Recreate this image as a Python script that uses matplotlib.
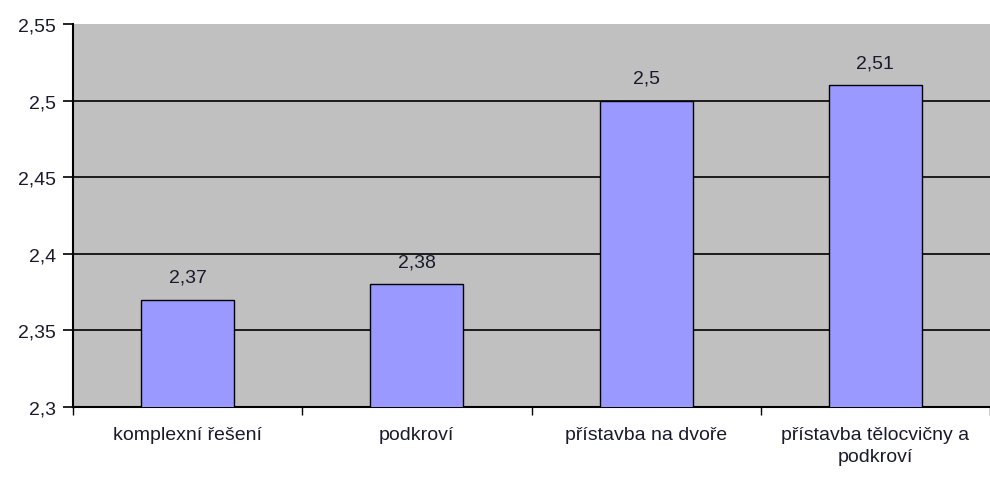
import matplotlib
matplotlib.use("Agg")
import matplotlib.pyplot as plt
import numpy as np

categories = ["komplexní řešení", "podkroví", "přístavba na dvoře", "přístavba tělocvičny a\npodkroví"]
values = [2.37, 2.38, 2.5, 2.51]
yticks = [2.3, 2.35, 2.4, 2.45, 2.5, 2.55]

plt.rcParams['font.family'] = ['Liberation Sans', 'DejaVu Sans']
FS = 14

fig = plt.figure(figsize=(9.9, 4.81), dpi=100)
ax = fig.add_axes([73/990, 73/481, 917/990, 383/481])
ax.set_facecolor('#C0C0C0')

x = np.arange(len(categories))
bars = ax.bar(x, values, width=0.405, color='#9999FF', edgecolor='black', linewidth=1.0, zorder=3)
for xi, v in zip(x, values):
    ax.text(xi, v + 0.009, f"{v:g}".replace('.', ','), ha='center', va='bottom', fontsize=FS, color='#1a1a2e', zorder=4)

ax.set_xlim(-0.5, len(categories) - 0.5)
ax.set_ylim(2.3, 2.55)
ax.set_yticks(yticks)
ax.set_yticklabels([f"{t:g}".replace('.', ',') for t in yticks], fontsize=FS, color='#1a1a2e')
ax.yaxis.grid(True, color='black', linewidth=1.2, zorder=1)
ax.get_ygridlines()[-1].set_visible(False)
ax.set_axisbelow(True)

ax.set_xticks(x)
ax.set_xticklabels(categories, fontsize=FS, color='#1a1a2e', linespacing=1.35)
ax.tick_params(axis='x', length=0, pad=14)
ax.set_xticks(np.arange(len(categories) + 1) - 0.5, minor=True)
ax.tick_params(axis='x', which='minor', length=6, width=1, direction='out')
ax.tick_params(axis='y', length=7, width=1.2, direction='out', pad=5)

for s in ['top', 'right']:
    ax.spines[s].set_visible(False)
for s in ['left', 'bottom']:
    ax.spines[s].set_linewidth(1.5)
    ax.spines[s].set_color('black')

fig.savefig('out.png', dpi=100, facecolor='white')
